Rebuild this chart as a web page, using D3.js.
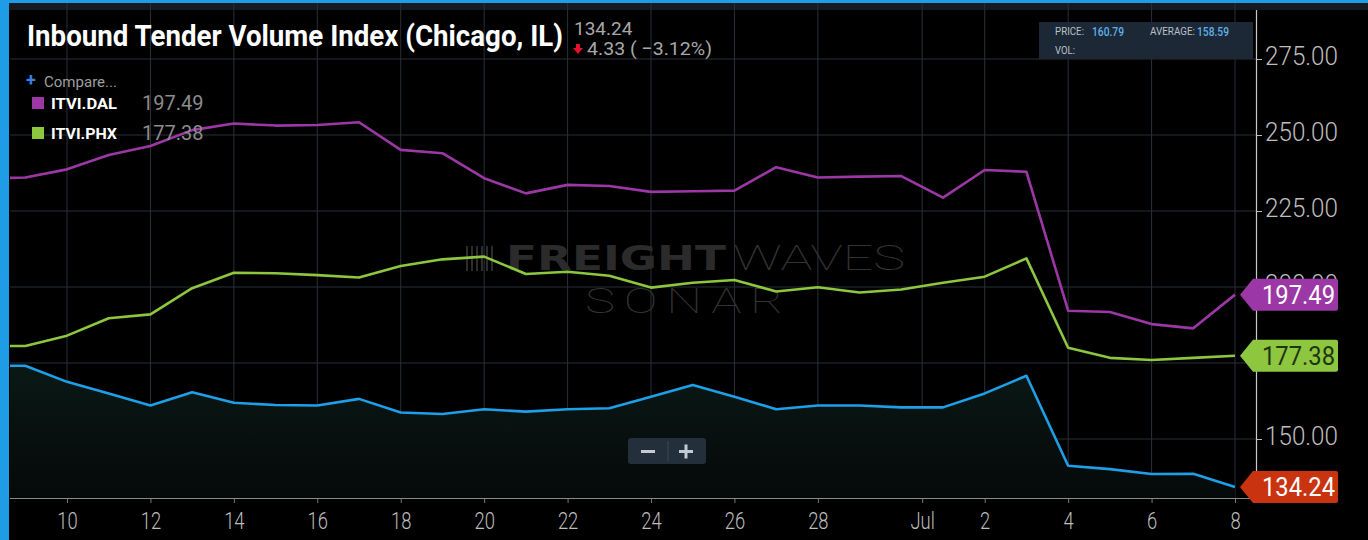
<!DOCTYPE html>
<html>
<head>
<meta charset="utf-8">
<script src="https://cdn.jsdelivr.net/npm/d3@7"></script>
<style>
  html, body { margin: 0; padding: 0; background: #000; }
  svg { display: block; font-family: Roboto, "Noto Sans", sans-serif; }
</style>
</head>
<body>
<svg id="chart" width="1368" height="540"></svg>
<script>
// ---------------- DATA ----------------
const dates = ["2018-06-08","2018-06-09","2018-06-10","2018-06-11","2018-06-12","2018-06-13","2018-06-14",
  "2018-06-15","2018-06-16","2018-06-17","2018-06-18","2018-06-19","2018-06-20","2018-06-21","2018-06-22",
  "2018-06-23","2018-06-24","2018-06-25","2018-06-26","2018-06-27","2018-06-28","2018-06-29","2018-06-30",
  "2018-07-01","2018-07-02","2018-07-03","2018-07-04","2018-07-05","2018-07-06","2018-07-07","2018-07-08"];
const chicago = [174.1,174.1,168.8,165.0,161.0,165.4,161.9,161.2,161.0,163.2,158.7,158.2,159.8,159.0,159.8,
  160.1,163.9,167.8,163.9,159.8,161.0,161.0,160.4,160.4,165.0,170.8,141.2,140.1,138.5,138.57,134.24];
const dallas = [235.7,236.0,238.7,243.4,246.4,251.6,253.8,253.1,253.3,254.2,245.1,244.0,235.8,230.8,233.6,
  233.2,231.3,231.5,231.7,239.4,236.0,236.3,236.5,229.4,238.5,237.9,192.2,191.8,187.8,186.4,197.49];
const phoenix = [180.6,180.6,184.0,189.7,191.0,199.6,204.7,204.5,203.9,203.1,206.9,209.1,210.0,204.3,205.0,
  203.7,199.8,201.4,202.3,198.5,199.9,198.2,199.2,201.4,203.4,209.4,180.0,176.7,176.0,176.7,177.38];
const seriesNames = ["ITVI.CHI", "ITVI.DAL", "ITVI.PHX"];
const xTickDates = ["2018-06-10","2018-06-12","2018-06-14","2018-06-16","2018-06-18","2018-06-20","2018-06-22",
  "2018-06-24","2018-06-26","2018-06-28","2018-06-30T12:00","2018-07-02","2018-07-04","2018-07-06","2018-07-08"];
const xTickLabels = ["10","12","14","16","18","20","22","24","26","28","Jul","2","4","6","8"];
const yTicks = [150, 175, 200, 225, 250, 275];
const titleText = "Inbound Tender Volume Index (Chicago, IL)";
const lastValue = 134.24, changeAbs = 4.33, changePct = -3.12;
const tooltipPrice = 160.79, tooltipAverage = 158.59;

// ---------------- SETUP ----------------
const W = 1368, H = 540;
const P = { left: 10, right: 1256, top: 10, bottom: 498 };
const C = { purple: "#9c37a6", green: "#8dc63f", blue: "#1e9fe8", red: "#c9330f",
            grid: "#29303a", text: "#bdbdbd", frame: "#1e9de6" };

const parse = s => new Date(s.length > 10 ? s : s + "T00:00");
const dts = dates.map(parse);
const svg = d3.select("#chart");

const x = d3.scaleTime().domain([parse("2018-06-09"), parse("2018-07-08")]).range([25.3, 1235]);
const y = d3.scaleLinear().domain([150, 275]).range([439, 59]);

function squeeze(sel, ratio) {
  sel.each(function () {
    const w = this.getComputedTextLength();
    d3.select(this).attr("textLength", w * ratio).attr("lengthAdjust", "spacingAndGlyphs");
  });
}

// background + frame
svg.append("rect").attr("width", W).attr("height", H).attr("fill", "#000");
svg.append("rect").attr("x", 0).attr("y", 3).attr("width", W).attr("height", 7).attr("fill", "#161a20");

const defs = svg.append("defs");
defs.append("clipPath").attr("id", "clip").append("rect")
  .attr("x", P.left).attr("y", P.top).attr("width", P.right - P.left).attr("height", P.bottom - P.top);
const grad = defs.append("linearGradient").attr("id", "areaGrad").attr("x1", 0).attr("y1", 0).attr("x2", 0).attr("y2", 1);
grad.append("stop").attr("offset", "0%").attr("stop-color", "#0a1916");
grad.append("stop").attr("offset", "100%").attr("stop-color", "#050909");

// grid
const grid = svg.append("g");
grid.selectAll(".hg").data(yTicks).join("line")
  .attr("x1", P.left).attr("x2", P.right).attr("y1", d => y(d)).attr("y2", d => y(d))
  .attr("stroke", C.grid).attr("stroke-width", 1);
grid.selectAll(".vg").data(xTickDates.map(parse)).join("line")
  .attr("x1", d => x(d)).attr("x2", d => x(d)).attr("y1", 3).attr("y2", P.bottom)
  .attr("stroke", C.grid).attr("stroke-width", 1);

// watermark
const wm = svg.append("g");
const bars = [0, 5, 10, 15, 20, 25];
wm.selectAll("rect.b").data(bars).join("rect")
  .attr("x", d => 466 + d).attr("y", 246).attr("width", 2).attr("height", 25).attr("fill", "#2c2c2c");
wm.append("text").attr("x", 506).attr("y", 270).text("FREIGHT")
  .attr("font-family", "DejaVu Sans").attr("font-weight", 700).attr("font-size", 33)
  .attr("fill", "#2b2b2b").attr("textLength", 220).attr("lengthAdjust", "spacingAndGlyphs");
wm.append("text").attr("x", 733).attr("y", 270).text("WAVES")
  .attr("font-family", "Roboto").attr("font-weight", 100).attr("font-size", 35)
  .attr("fill", "#333").attr("textLength", 172).attr("lengthAdjust", "spacingAndGlyphs");
wm.append("text").attr("x", 585).attr("y", 313).text("SONAR")
  .attr("font-family", "Roboto").attr("font-weight", 100).attr("font-size", 35)
  .attr("letter-spacing", 6)
  .attr("fill", "#333").attr("textLength", 207).attr("lengthAdjust", "spacingAndGlyphs");

// series
const plotG = svg.append("g").attr("clip-path", "url(#clip)");
const area = d3.area().x((d, i) => x(dts[i])).y0(P.bottom).y1(d => y(d));
plotG.append("path").datum(chicago).attr("d", area).attr("fill", "url(#areaGrad)");
const line = d3.line().x((d, i) => x(dts[i])).y(d => y(d));
[[dallas, C.purple], [phoenix, C.green], [chicago, C.blue]].forEach(([vals, col]) => {
  plotG.append("path").datum(vals).attr("d", line).attr("fill", "none")
    .attr("stroke", col).attr("stroke-width", 2.6).attr("stroke-linejoin", "round");
});

// x axis
const xAxis = d3.axisBottom(x).tickValues(xTickDates.map(parse))
  .tickFormat((d, i) => xTickLabels[i]).tickSize(5).tickPadding(10);
const gx = svg.append("g").attr("transform", `translate(0,${P.bottom})`).call(xAxis);
gx.select(".domain").remove();
gx.selectAll(".tick line").attr("stroke", "#777");
gx.selectAll("text").attr("fill", C.text).attr("font-size", 23).attr("font-weight", 300)
  .attr("font-family", "Roboto");
squeeze(gx.selectAll("text"), 0.8);
svg.append("line").attr("x1", P.left).attr("x2", P.right).attr("y1", P.bottom + 0.5).attr("y2", P.bottom + 0.5)
  .attr("stroke", "#8a8a8a").attr("stroke-width", 1.2);

// y axis (right)
const yAxis = d3.axisRight(y).tickValues(yTicks).tickFormat(d3.format(".2f")).tickSize(6).tickPadding(3);
const gy = svg.append("g").attr("transform", `translate(${P.right},0)`).call(yAxis);
gy.select(".domain").remove();
gy.selectAll(".tick line").attr("stroke", "#bbb");
gy.selectAll("text").attr("fill", C.text).attr("font-size", 25).attr("font-weight", 300)
  .attr("font-family", "Roboto").attr("dy", "0.22em")
  .attr("textLength", 73).attr("lengthAdjust", "spacingAndGlyphs");
svg.append("line").attr("x1", P.right + 0.5).attr("x2", P.right + 0.5).attr("y1", P.top).attr("y2", P.bottom)
  .attr("stroke", "#c8c8c8").attr("stroke-width", 1.2);

// last-value flags
const flags = [
  { v: dallas[dallas.length - 1], fill: C.purple, txt: "#fff" },
  { v: phoenix[phoenix.length - 1], fill: C.green, txt: "#1f3510" },
  { v: chicago[chicago.length - 1], fill: C.red, txt: "#fff" }
];
flags.forEach(f => {
  const cy = y(f.v), h = 16, tip = 1240, s = 1253, r = 1338;
  svg.append("path")
    .attr("d", `M${tip},${cy} L${s},${cy - h} L${r - 2},${cy - h} Q${r},${cy - h} ${r},${cy - h + 2} L${r},${cy + h - 2} Q${r},${cy + h} ${r - 2},${cy + h} L${s},${cy + h} Z`)
    .attr("fill", f.fill);
  svg.append("text").attr("x", 1262).attr("y", cy).attr("dy", "0.36em")
    .attr("font-size", 25).attr("font-weight", 400).attr("fill", f.txt)
    .attr("textLength", 73).attr("lengthAdjust", "spacingAndGlyphs")
    .text(d3.format(".2f")(f.v));
});

// frame strips (on top)
svg.append("rect").attr("x", 0).attr("y", 0).attr("width", W).attr("height", 3).attr("fill", C.frame);
svg.append("rect").attr("x", 0).attr("y", 0).attr("width", 9).attr("height", H).attr("fill", C.frame);

// title & change
svg.append("text").attr("x", 27).attr("y", 46).text(titleText)
  .attr("font-size", 29).attr("font-weight", 700).attr("fill", "#fff")
  .attr("textLength", 536).attr("lengthAdjust", "spacingAndGlyphs");
svg.append("text").attr("x", 574).attr("y", 35).text(d3.format(".2f")(lastValue))
  .attr("font-size", 19).attr("fill", "#a8a8a8");
svg.append("path").attr("d", "M576,44 h4 v4 h3 l-5,6 l-5,-6 h3 z").attr("fill", "#e8102a");
svg.append("text").attr("x", 587).attr("y", 55)
  .text(`${d3.format(".2f")(changeAbs)} ( ${d3.format(".2f")(changePct)}%)`)
  .attr("font-size", 19).attr("fill", "#a8a8a8").attr("textLength", 125).attr("lengthAdjust", "spacingAndGlyphs");

// legend
svg.append("text").attr("x", 26).attr("y", 86).text("+").attr("font-size", 18)
  .attr("font-weight", 700).attr("fill", "#3b7fe0");
svg.append("text").attr("x", 44).attr("y", 87).text("Compare...").attr("font-size", 15)
  .attr("fill", "#9e9e9e").attr("textLength", 73).attr("lengthAdjust", "spacingAndGlyphs");
const legend = [
  { name: seriesNames[1], v: dallas[dallas.length - 1], col: C.purple, yy: 97 },
  { name: seriesNames[2], v: phoenix[phoenix.length - 1], col: C.green, yy: 127 }
];
legend.forEach(l => {
  svg.append("rect").attr("x", 32).attr("y", l.yy).attr("width", 12).attr("height", 12).attr("fill", l.col);
  svg.append("text").attr("x", 51).attr("y", l.yy + 12).text(l.name).attr("font-size", 15.5)
    .attr("font-weight", 700).attr("fill", "#fff").attr("textLength", 66).attr("lengthAdjust", "spacingAndGlyphs");
  svg.append("text").attr("x", 142).attr("y", l.yy + 13).text(d3.format(".2f")(l.v)).attr("font-size", 20)
    .attr("fill", "#8c8c8c");
});

// tooltip box
svg.append("rect").attr("x", 1039).attr("y", 22).attr("width", 214).attr("height", 37).attr("fill", "#1c2835");
const tt = svg.append("g").attr("font-size", 10.5);
tt.append("text").attr("x", 1055).attr("y", 35).text("PRICE:").attr("fill", "#b8c0c8")
  .attr("textLength", 29).attr("lengthAdjust", "spacingAndGlyphs");
tt.append("text").attr("x", 1092).attr("y", 35.5).text(d3.format(".2f")(tooltipPrice)).attr("fill", "#5eb0ea")
  .attr("font-size", 12).attr("font-weight", 500).attr("textLength", 32).attr("lengthAdjust", "spacingAndGlyphs");
tt.append("text").attr("x", 1150).attr("y", 35).text("AVERAGE:").attr("fill", "#b8c0c8")
  .attr("textLength", 45).attr("lengthAdjust", "spacingAndGlyphs");
tt.append("text").attr("x", 1197).attr("y", 35.5).text(d3.format(".2f")(tooltipAverage)).attr("fill", "#5eb0ea")
  .attr("font-size", 12).attr("font-weight", 500).attr("textLength", 32).attr("lengthAdjust", "spacingAndGlyphs");
tt.append("text").attr("x", 1055).attr("y", 54).text("VOL:").attr("fill", "#b8c0c8")
  .attr("textLength", 20).attr("lengthAdjust", "spacingAndGlyphs");

// zoom buttons
const zb = svg.append("g");
zb.append("rect").attr("x", 628).attr("y", 438).attr("width", 78).attr("height", 26).attr("rx", 3).attr("fill", "#23303c");
zb.append("line").attr("x1", 668).attr("x2", 668).attr("y1", 441).attr("y2", 461).attr("stroke", "#3a4854");
zb.append("rect").attr("x", 641).attr("y", 450).attr("width", 14).attr("height", 3).attr("fill", "#c3cad2");
zb.append("rect").attr("x", 679).attr("y", 450).attr("width", 14).attr("height", 3).attr("fill", "#c3cad2");
zb.append("rect").attr("x", 684.5).attr("y", 444.5).attr("width", 3).attr("height", 14).attr("fill", "#c3cad2");
</script>
</body>
</html>
